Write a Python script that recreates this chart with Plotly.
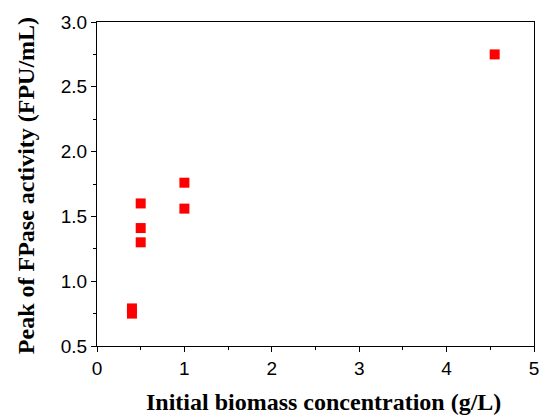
import plotly.graph_objects as go

biomass = [0.40, 0.40, 0.50, 0.50, 0.50, 1.00, 1.00, 4.55]
fpase = [0.79, 0.75, 1.60, 1.41, 1.30, 1.76, 1.56, 2.75]

x_ticks = [0, 1, 2, 3, 4, 5]
y_ticks = [0.5, 1.0, 1.5, 2.0, 2.5, 3.0]
y_tick_labels = ["0.5", "1.0", "1.5", "2.0", "2.5", "3.0"]

x_title = "Initial biomass concentration (g/L)"
y_title = "Peak of FPase activity (FPU/mL)"

fig = go.Figure()
fig.add_trace(go.Scatter(
    x=biomass, y=fpase, mode="markers",
    marker=dict(symbol="square", size=10, color="#ff0000", line=dict(width=0)),
    showlegend=False,
))

tickfont = dict(family="Liberation Sans, Arial, sans-serif", size=19, color="black")
titlefont = dict(family="Liberation Serif, Times New Roman, serif", size=24, color="black")

fig.update_layout(
    width=551, height=416,
    margin=dict(l=97, r=15, t=20, b=70),
    plot_bgcolor="white", paper_bgcolor="white",
    xaxis=dict(
        range=[0, 5], tickvals=x_ticks, ticks="outside", ticklen=5, tickwidth=1.2,
        tickcolor="black", showline=True, linecolor="black", linewidth=1.2, mirror=True,
        showgrid=False, zeroline=False, tickfont=tickfont,
        minor=dict(dtick=0.5, ticks="outside", ticklen=3, tickcolor="black", tickwidth=1.2, showgrid=False),
    ),
    yaxis=dict(
        range=[0.5, 3.0], tickvals=y_ticks, ticktext=y_tick_labels, ticks="outside", ticklen=5, tickwidth=1.2,
        tickcolor="black", showline=True, linecolor="black", linewidth=1.2, mirror=True,
        showgrid=False, zeroline=False, tickfont=tickfont,
        minor=dict(dtick=0.25, ticks="outside", ticklen=3, tickcolor="black", tickwidth=1.2, showgrid=False),
    ),
    annotations=[
        dict(text="<b>" + x_title + "</b>", xref="paper", yref="paper", x=0.519, y=-0.172,
             xanchor="center", yanchor="middle", showarrow=False, font=titlefont),
        dict(text="<b>" + y_title + "</b>", xref="paper", yref="paper", x=-0.162, y=0.494,
             xanchor="center", yanchor="middle", showarrow=False, font=titlefont, textangle=-90),
    ],
)

fig.write_html("out.html")
